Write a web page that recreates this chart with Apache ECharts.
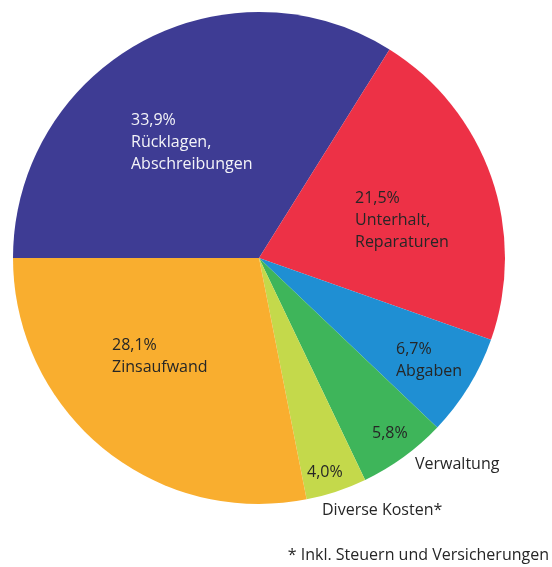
<!DOCTYPE html>
<html>
<head>
<meta charset="utf-8">
<script src="https://cdn.jsdelivr.net/npm/echarts@6/dist/echarts.min.js"></script>
<style>
  html, body { margin: 0; padding: 0; background: #ffffff; }
  #chart { width: 552px; height: 567px; }
</style>
</head>
<body>
<div id="chart"></div>
<script>
// Kostenanteile (Prozent), im Uhrzeigersinn ab 9 Uhr
const categories = [
  'Rücklagen,\nAbschreibungen',
  'Unterhalt,\nReparaturen',
  'Abgaben',
  'Verwaltung',
  'Diverse Kosten*',
  'Zinsaufwand'
];
const shares = [33.9, 21.5, 6.7, 5.8, 4.0, 28.1];
const sliceColors = ['#3e3c94', '#ed3146', '#1f8fd3', '#3eb55a', '#c4d94b', '#f9ae2f'];
const footnote = '* Inkl. Steuern und Versicherungen';

// Label block anchors: [left x, centre y of first line]
const labelAnchors = [
  [131, 120],
  [355, 198],
  [396, 349],
  [372, 433],
  [307, 472],
  [112, 345]
];
// Names drawn apart from the percentage (outside the slice)
const detachedName = { 3: 'v', 4: 'd' };

const LH = 22;
const fmtPct = v => v.toFixed(1).replace('.', ',') + '%';

const chart = echarts.init(document.getElementById('chart'), null, { renderer: 'canvas' });

const data = categories.map((name, i) => {
  const white = i === 0;
  return {
    name: name,
    value: shares[i],
    itemStyle: { color: sliceColors[i] },
    label: { color: white ? '#f4f4f8' : '#262626' }
  };
});

chart.setOption({
  animation: false,
  textStyle: { fontFamily: 'Open Sans' },
  series: [{
    type: 'pie',
    center: [259, 258],
    radius: [0, 246],
    startAngle: 180,
    clockwise: true,
    silent: true,
    avoidLabelOverlap: false,
    itemStyle: { borderWidth: 0 },
    label: {
      show: true,
      position: 'inside',
      fontFamily: 'Open Sans',
      fontSize: 16,
      lineHeight: LH,
      align: 'left',
      formatter: p => {
        const pct = fmtPct(p.value);
        const style = detachedName[p.dataIndex];
        if (style) return '{p|' + pct + '}\n{' + style + '|' + p.name + '}';
        return p.name.split('\n').reduce((s, line) => s + '\n{p|' + line + '}', '{p|' + pct + '}');
      },
      rich: {
        p: { fontFamily: 'Open Sans', fontSize: 16, lineHeight: LH },
        v: { fontFamily: 'Open Sans', fontSize: 16, lineHeight: 40, padding: [0, 0, 0, 43] },
        d: { fontFamily: 'Open Sans', fontSize: 16, lineHeight: 55, padding: [0, 0, 0, 15] }
      }
    },
    labelLine: { show: false },
    labelLayout: params => {
      const a = labelAnchors[params.dataIndex];
      return { x: a[0], y: a[1] - LH / 2, align: 'left', verticalAlign: 'top' };
    },
    emphasis: { disabled: true },
    data: data
  }],
  graphic: [{
    type: 'text',
    right: 3,
    top: 547,
    style: {
      text: footnote,
      fontFamily: 'Open Sans',
      fontSize: 16,
      fill: '#262626'
    }
  }]
});
</script>
</body>
</html>
